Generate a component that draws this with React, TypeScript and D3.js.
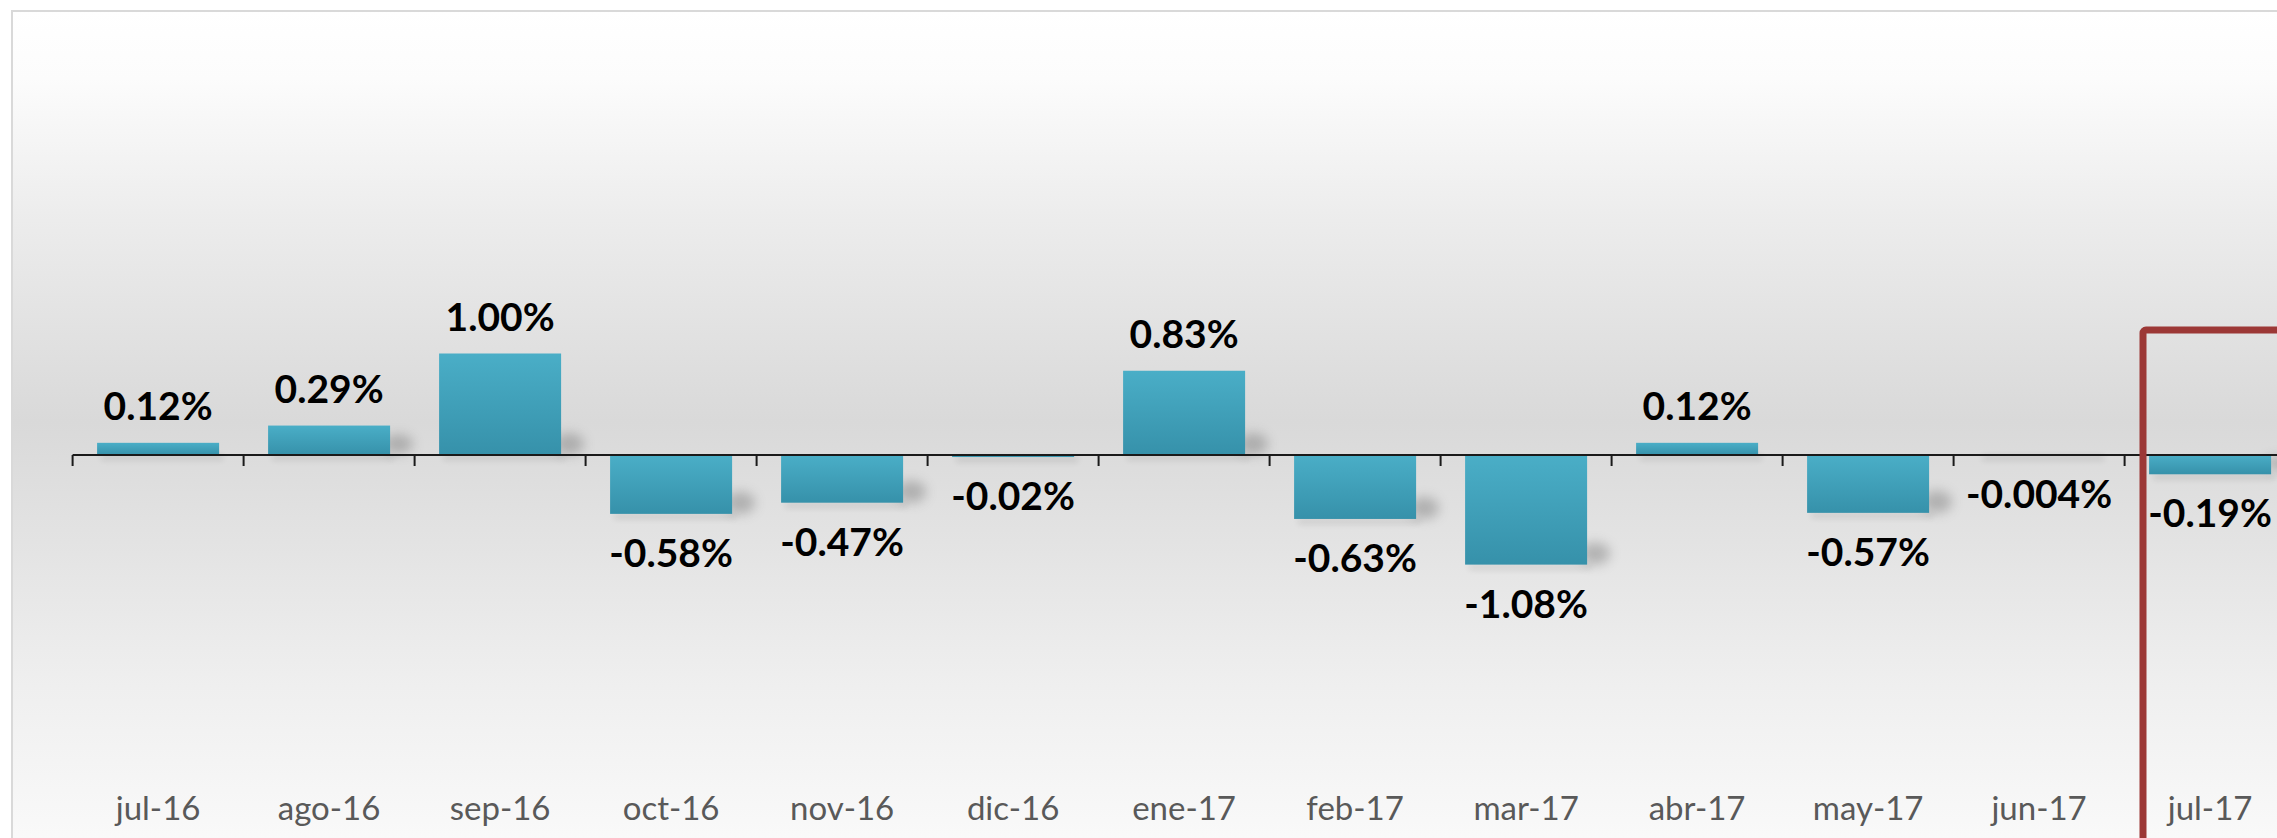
import React from 'react';
import * as d3 from 'd3';

const categories = ['jul-16', 'ago-16', 'sep-16', 'oct-16', 'nov-16', 'dic-16', 'ene-17', 'feb-17', 'mar-17', 'abr-17', 'may-17', 'jun-17', 'jul-17'];
const values = [0.12, 0.29, 1.0, -0.58, -0.47, -0.02, 0.83, -0.63, -1.08, 0.12, -0.57, -0.004, -0.19];
const valueLabels = ['0.12%', '0.29%', '1.00%', '-0.58%', '-0.47%', '-0.02%', '0.83%', '-0.63%', '-1.08%', '0.12%', '-0.57%', '-0.004%', '-0.19%'];

const W = 2277;
const H = 838;
const X0 = 72.6;
const STEP = 171;
const ZERO = 455;
const PX_PER_UNIT = 101.5;

export default function App() {
  const pad = 0.2865;
  const x = d3
    .scaleBand<string>()
    .domain(categories)
    .range([X0, X0 + STEP * categories.length])
    .paddingInner(pad)
    .paddingOuter(pad / 2);
  const y = d3.scaleLinear().domain([-1, 1]).range([ZERO + PX_PER_UNIT, ZERO - PX_PER_UNIT]);
  const step = x.step();
  const ticks = d3.range(categories.length + 1).map((i) => X0 + i * step);

  return (
    <svg width={W} height={H} style={{ position: 'absolute', left: 0, top: 0, display: 'block' }}>
      <defs>
        <linearGradient id="bg" x1="0" y1="0" x2="0" y2="1">
          <stop offset="0" stopColor="#ffffff" />
          <stop offset="0.08" stopColor="#fcfcfc" />
          <stop offset="0.25" stopColor="#ececec" />
          <stop offset="0.49" stopColor="#d9d9d9" />
          <stop offset="0.79" stopColor="#eeeeee" />
          <stop offset="1" stopColor="#fafafa" />
        </linearGradient>
        <linearGradient id="bar" x1="0" y1="0" x2="0" y2="1">
          <stop offset="0" stopColor="#4aaec7" />
          <stop offset="1" stopColor="#3691aa" />
        </linearGradient>
        <filter id="blur" x="-100%" y="-100%" width="300%" height="300%">
          <feGaussianBlur stdDeviation="6" />
        </filter>
        <filter id="blur2" x="-20%" y="-200%" width="140%" height="500%">
          <feGaussianBlur stdDeviation="3" />
        </filter>
      </defs>
      <rect x={0} y={0} width={W} height={H} fill="#ffffff" />
      <rect x={12} y={11} width={W + 20} height={H} fill="url(#bg)" stroke="#d9d9d9" strokeWidth={2} />

      {/* shadows */}
      {values.map((v, i) => {
        const bx = x(categories[i])!;
        const bw = x.bandwidth();
        const top = Math.min(y(v), y(0));
        const bottom = Math.max(y(v), y(0));
        const h = bottom - top;
        return (
          <g key={'s' + i}>
            <rect x={bx + 4} y={bottom} width={bw} height={5} fill="#000" opacity={0.1} filter="url(#blur2)" />
            {h > 15 && (
              <ellipse cx={bx + bw + 8} cy={bottom - 11} rx={15} ry={Math.min(11, h / 3)} fill="#6a6a6a" opacity={0.4} filter="url(#blur)" />
            )}
          </g>
        );
      })}

      {/* bars */}
      {values.map((v, i) => {
        const top = Math.min(y(v), y(0));
        const h = Math.abs(y(v) - y(0));
        return <rect key={'b' + i} x={x(categories[i])} y={top} width={x.bandwidth()} height={Math.max(h, 1)} fill="url(#bar)" />;
      })}

      {/* axis */}
      <line x1={X0} x2={W + 20} y1={y(0)} y2={y(0)} stroke="#1a1a1a" strokeWidth={2.2} />
      {ticks.map((t, i) => (
        <line key={'t' + i} x1={t} x2={t} y1={y(0)} y2={y(0) + 11} stroke="#1a1a1a" strokeWidth={2} />
      ))}

      {/* value labels */}
      {values.map((v, i) => {
        const cx = x(categories[i])! + x.bandwidth() / 2;
        const ty = v >= 0 ? y(v) - 23 : y(v) + 53;
        return (
          <text
            key={'l' + i}
            x={cx}
            y={ty}
            textAnchor="middle"
            fontFamily="Lato, 'Open Sans', sans-serif"
            fontWeight={700}
            fontSize={39}
            fill="#000000"
          >
            {valueLabels[i]}
          </text>
        );
      })}

      {/* category labels */}
      {categories.map((c) => (
        <text
          key={'c' + c}
          x={x(c)! + x.bandwidth() / 2}
          y={820}
          textAnchor="middle"
          fontFamily="Lato, 'Open Sans', sans-serif"
          fontSize={33}
          fill="#595959"
        >
          {c}
        </text>
      ))}

      {/* highlight box */}
      <rect x={2143} y={330} width={400} height={700} fill="none" stroke="#9c3836" strokeWidth={7} rx={3} />
    </svg>
  );
}
